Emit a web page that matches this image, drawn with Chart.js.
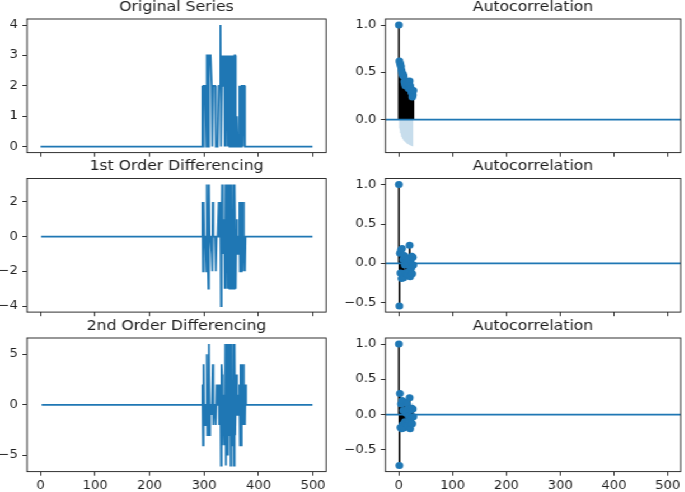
<!DOCTYPE html>
<html>
<head>
<meta charset="utf-8">
<title>Differencing and autocorrelation</title>
<script src="https://cdn.jsdelivr.net/npm/chart.js@4.4.1/dist/chart.umd.min.js"></script>
<style>
  html, body { margin: 0; padding: 0; background: #fff; overflow: hidden; }
  /* the figure is drawn 612 wide and stretched to 685, like the source image */
  #fig { position: relative; width: 612px; height: 492px; transform: scaleX(1.1195); transform-origin: 0 0; }
  #fig canvas { position: absolute; left: 0; top: 0; }
</style>
</head>
<body>
<div id="fig">
  <canvas id="orig" width="612" height="492"></canvas>
  <canvas id="acfOrig" width="612" height="492"></canvas>
  <canvas id="d1" width="612" height="492"></canvas>
  <canvas id="acfD1" width="612" height="492"></canvas>
  <canvas id="d2" width="612" height="492"></canvas>
  <canvas id="acfD2" width="612" height="492"></canvas>
</div>
<script>
// ---- data ----
// series run from their first index to lastIndex, flat at 0 outside the burst
const lastIndex = 499;
const seriesFirst = [0, 1, 2];      // original, 1st diff, 2nd diff
const burstStart = 296;             // index of the first value listed below

const original = [0, 2, 0, 2, 2, 2, 2, 2, 0, 3, 3, 3, 0, 3, 3, 3, 3, 3, 2, 0,
  2, 2, 2, 2, 2, 2, 0, 0, 0, 0, 0, 2, 2, 2, 4, 0, 0, 3, 2, 2,
  2, 3, 0, 3, 0, 3, 1, 3, 0, 3, 3, 0, 3, 0, 3, 2, 3, 0, 3, 0,
  3, 3, 0, 0, 1, 1, 0, 0, 0, 2, 0, 2, 0, 2, 2, 0, 2, 2, 2, 0, 0, 0];

const diff1 = [0, 2, -2, 2, 0, 0, 0, 0, -2, 3, 0, 0, -3, 3, 0, 0, 0, 0, -1, -2,
  2, 0, 0, 0, 0, 0, -2, 0, 0, 0, 0, 2, 0, 0, 2, -4, 0, 3, -1, 0,
  0, 1, -3, 3, -3, 3, -2, 2, -3, 3, 0, -3, 3, -3, 3, -1, 1, -3, 3, -3,
  3, 0, -3, 0, 1, 0, -1, 0, 0, 2, -2, 2, -2, 2, 0, -2, 2, 0, 0, -2, 0, 0];

const diff2 = [0, 2, -4, 4, -2, 0, 0, 0, -2, 5, -3, 0, -3, 6, -3, 0, 0, 0, -1, -1,
  4, -2, 0, 0, 0, 0, -2, 2, 0, 0, 0, 2, -2, 0, 2, -6, 4, 3, -4, 1,
  0, 1, -4, 6, -6, 6, -5, 4, -5, 6, -3, -3, 6, -6, 6, -4, 2, -4, 6, -6,
  6, -3, -3, 3, 1, -1, -1, 1, 0, 2, -4, 4, -4, 4, -2, -2, 4, -2, 0, -2, 2, 0];

const lags = [0, 1, 2, 3, 4, 5, 6, 7, 8, 9, 10, 11, 12, 13, 14, 15, 16, 17, 18, 19,
  20, 21, 22, 23, 24, 25, 26, 27];

const acfOrig = [1.0, 0.62, 0.60, 0.58, 0.56, 0.52, 0.49, 0.47, 0.48, 0.46, 0.40, 0.38, 0.36, 0.37,
  0.41, 0.40, 0.38, 0.35, 0.33, 0.40, 0.41, 0.36, 0.33, 0.30, 0.28, 0.24, 0.26, 0.31];
const bandOrig = [0, 0.09, 0.12, 0.14, 0.16, 0.18, 0.19, 0.20, 0.21, 0.22, 0.225, 0.23, 0.235, 0.24,
  0.245, 0.25, 0.253, 0.256, 0.26, 0.263, 0.266, 0.27, 0.272, 0.275, 0.277, 0.279, 0.281, 0.283];

const acfD1 = [1.0, -0.54, 0.13, -0.12, 0.17, -0.19, 0.19, -0.13, 0.05, -0.18, 0.10, -0.02, 0.08, -0.12,
  0.03, 0.05, -0.15, 0.00, 0.06, -0.10, 0.23, -0.17, 0.04, -0.06, 0.09, -0.13, 0.08, -0.02];
const bandD1 = [0, 0.088, 0.111, 0.112, 0.114, 0.116, 0.119, 0.122, 0.123, 0.123, 0.126, 0.126, 0.126, 0.127,
  0.128, 0.128, 0.128, 0.130, 0.130, 0.130, 0.131, 0.134, 0.136, 0.136, 0.136, 0.137, 0.138, 0.139];

const acfD2 = [1.0, -0.72, 0.30, -0.18, 0.15, -0.20, 0.20, -0.14, 0.06, -0.19, 0.18, -0.10, 0.05, -0.12,
  0.02, 0.16, -0.15, 0.08, -0.02, -0.10, 0.24, -0.20, 0.07, -0.05, 0.09, -0.13, 0.08, -0.03];
const bandD2 = [0, 0.088, 0.125, 0.130, 0.132, 0.134, 0.137, 0.140, 0.141, 0.142, 0.145, 0.147, 0.147, 0.148,
  0.149, 0.149, 0.151, 0.153, 0.153, 0.153, 0.155, 0.158, 0.160, 0.160, 0.161, 0.162, 0.163, 0.163];

const xTicks = [0, 100, 200, 300, 400, 500];
const yTicksOrig = [0, 1, 2, 3, 4];
const yTicksD1 = [-4, -2, 0, 2];
const yTicksD2 = [-5, 0, 5];
const yTicksAcfOrig = [0, 0.5, 1];
const yTicksAcf = [-0.5, 0, 0.5, 1];
const rowTitles = ['Original Series', '1st Order Differencing', '2nd Order Differencing'];

// ---- look & layout ----
const BLUE = '#1f77b4';
const AXIS_COLOR = '#262626';
const TEXT_COLOR = '#1e1e1e';
const FONT = "'DejaVu Sans', 'Liberation Sans', sans-serif";
const FIG_W = 612, FIG_H = 492;
const colLeft = [24.1, 344.3];
const yAxisW = [24.1, 44];          // room for the tick labels left of each column
const rowTop = [19, 178.5, 338];
const AX_W = 267.2, AX_H = 133.6;
const X_AXIS_H = 20;
const TITLE_SIZE = 14, TITLE_GAP = 4.9, TICK_SIZE = 11.7;

// matplotlib-style 5% margins
function padRange(lo, hi) {
  const m = (hi - lo) * 0.05;
  return [lo - m, hi + m];
}
const [xMin, xMax] = padRange(0, lastIndex);

const minus = s => s.replace('-', '\u2212');

const frame = {
  id: 'frame',
  afterDraw(chart) {
    const { ctx, chartArea: a } = chart;
    ctx.save();
    ctx.strokeStyle = AXIS_COLOR;
    ctx.lineWidth = 0.95;
    ctx.strokeRect(a.left, a.top, a.right - a.left, a.bottom - a.top);
    ctx.restore();
  }
};

function seriesPoints(values, first) {
  const pts = [{ x: first, y: 0 }];
  values.forEach((v, k) => pts.push({ x: burstStart + k, y: v }));
  pts.push({ x: lastIndex, y: 0 });
  return pts;
}

function makeChart(id, row, col, datasets, yRange, yTicks, yDecimals) {
  const left = colLeft[col], top = rowTop[row], yw = yAxisW[col];
  return new Chart(document.getElementById(id), {
    type: 'scatter',
    data: { datasets },
    options: {
      responsive: false,
      animation: false,
      events: [],
      layout: {
        padding: {
          left: left - yw,
          top: top - TITLE_SIZE - TITLE_GAP,
          right: FIG_W - left - AX_W,
          bottom: FIG_H - top - AX_H - X_AXIS_H
        }
      },
      plugins: {
        legend: { display: false },
        tooltip: { enabled: false },
        title: {
          display: true,
          text: col === 0 ? rowTitles[row] : 'Autocorrelation',
          fullSize: false,
          color: TEXT_COLOR,
          font: { family: FONT, size: TITLE_SIZE, weight: 'normal', lineHeight: 1 },
          padding: { top: 0, bottom: TITLE_GAP }
        }
      },
      scales: {
        x: {
          type: 'linear',
          min: xMin,
          max: xMax,
          afterBuildTicks: s => { s.ticks = xTicks.map(v => ({ value: v })); },
          afterFit: s => { s.height = X_AXIS_H; },
          border: { display: false },
          grid: { drawOnChartArea: false, drawTicks: true, tickLength: 4.1, color: AXIS_COLOR, lineWidth: 0.95 },
          ticks: {
            display: row === 2,
            color: TEXT_COLOR,
            font: { family: FONT, size: TICK_SIZE },
            padding: 3,
            maxRotation: 0,
            autoSkip: false,
            callback: v => String(v)
          }
        },
        y: {
          type: 'linear',
          min: yRange[0],
          max: yRange[1],
          afterBuildTicks: s => { s.ticks = yTicks.map(v => ({ value: v })); },
          afterFit: s => { s.width = yw; },
          border: { display: false },
          grid: { drawOnChartArea: false, drawTicks: true, tickLength: 4.1, color: AXIS_COLOR, lineWidth: 0.95 },
          ticks: {
            color: TEXT_COLOR,
            font: { family: FONT, size: TICK_SIZE },
            padding: 4,
            autoSkip: false,
            callback: v => minus(v.toFixed(yDecimals))
          }
        }
      }
    },
    plugins: [frame]
  });
}

function lineChart(id, row, values, yTicks) {
  const pts = seriesPoints(values, seriesFirst[row]);
  const yRange = padRange(Math.min(...values), Math.max(...values));
  makeChart(id, row, 0, [{
    data: pts,
    showLine: true,
    borderColor: BLUE,
    borderWidth: 1.75,
    pointRadius: 0,
    tension: 0
  }], yRange, yTicks, 0);
}

function acfChart(id, row, acf, band, yTicks) {
  const stems = [];
  lags.forEach((lag, i) => {
    stems.push({ x: lag, y: 0 }, { x: lag, y: acf[i] }, { x: lag, y: null });
  });
  const lows = band.map(b => -b);
  const yRange = padRange(Math.min(...acf, ...lows), Math.max(...acf, ...band));
  // first dataset is drawn on top
  makeChart(id, row, 1, [
    {
      data: lags.map((lag, i) => ({ x: lag, y: acf[i] })),
      showLine: false,
      pointRadius: 3.5,
      pointBackgroundColor: BLUE,
      pointBorderWidth: 0
    },
    {
      data: [{ x: xMin, y: 0 }, { x: xMax, y: 0 }],
      showLine: true,
      borderColor: BLUE,
      borderWidth: 1.75,
      pointRadius: 0
    },
    {
      data: stems,
      showLine: true,
      spanGaps: false,
      borderColor: '#000',
      borderWidth: 1.6,
      pointRadius: 0
    },
    {
      data: lags.map((lag, i) => ({ x: lag, y: band[i] })),
      showLine: true,
      borderWidth: 0,
      pointRadius: 0,
      backgroundColor: 'rgba(31, 119, 180, 0.25)',
      fill: '+1'
    },
    {
      data: lags.map((lag, i) => ({ x: lag, y: lows[i] })),
      showLine: true,
      borderWidth: 0,
      pointRadius: 0
    }
  ], yRange, yTicks, 1);
}

lineChart('orig', 0, original, yTicksOrig);
lineChart('d1', 1, diff1, yTicksD1);
lineChart('d2', 2, diff2, yTicksD2);
acfChart('acfOrig', 0, acfOrig, bandOrig, yTicksAcfOrig);
acfChart('acfD1', 1, acfD1, bandD1, yTicksAcf);
acfChart('acfD2', 2, acfD2, bandD2, yTicksAcf);
</script>
</body>
</html>
